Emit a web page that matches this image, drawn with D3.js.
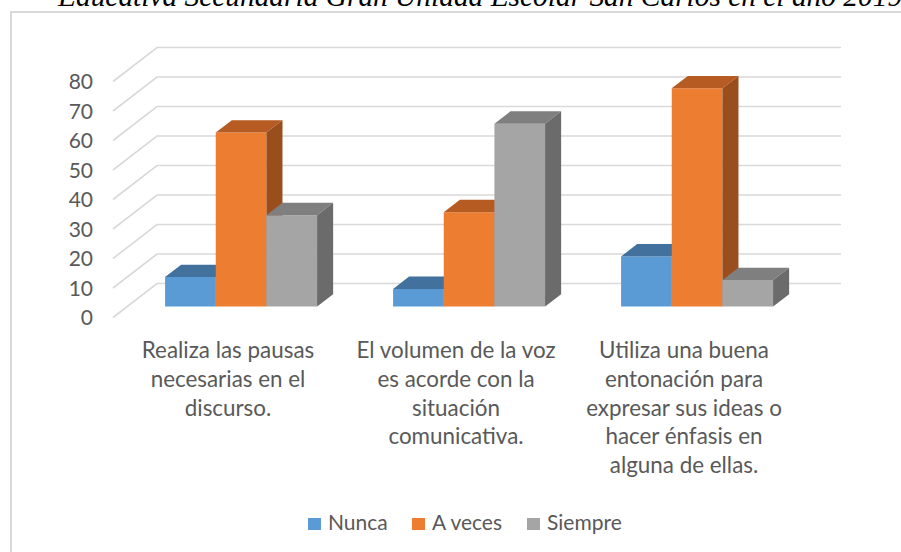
<!DOCTYPE html>
<html>
<head>
<meta charset="utf-8">
<script src="https://cdn.jsdelivr.net/npm/d3@7"></script>
<style>
  html, body { margin: 0; padding: 0; background: #fff; }
  svg { display: block; }
  .lbl { font-family: Lato, "Open Sans", sans-serif; fill: #595959; }
</style>
</head>
<body>
<svg id="chart" width="901" height="552"></svg>
<script>
	"use strict";

	var titleText = "Educativa Secundaria Gran Unidad Escolar San Carlos en el año 2019";
	var categories = ["Realiza las pausas necesarias en el discurso.",
		"El volumen de la voz es acorde con la situación comunicativa.",
		"Utiliza una buena entonación para expresar sus ideas o hacer énfasis en alguna de ellas."];
	var categoryLines = [
		["Realiza las pausas", "necesarias en el", "discurso."],
		["El volumen de la voz", "es acorde con la", "situación", "comunicativa."],
		["Utiliza una buena", "entonación para", "expresar sus ideas o", "hacer énfasis en", "alguna de ellas."]
	];
	var seriesNames = ["Nunca", "A veces", "Siempre"];
	var nunca = [10, 6, 17];
	var aVeces = [59, 32, 74];
	var siempre = [31, 62, 9];
	var yTicks = [0, 10, 20, 30, 40, 50, 60, 70, 80];

	var colors = {
		"Nunca": { front: "#5b9bd5", top: "#41719c", side: "#3b6a94" },
		"A veces": { front: "#ed7d31", top: "#b65c22", side: "#9a4e1d" },
		"Siempre": { front: "#a5a5a5", top: "#7f7f7f", side: "#6b6b6b" }
	};

	var depth = { dx: 44, dy: -34 },
		barDepth = { front: 0.32, back: 0.685 },
		svg = d3.select("#chart");

	var values = [nunca, aVeces, siempre];

	var x = d3.scaleBand().domain(categories).range([113, 797]).padding(0);
	var xInner = d3.scaleBand().domain(seriesNames).range([0, x.bandwidth()]).paddingInner(0).paddingOuter(0.75);
	var y = d3.scaleLinear().domain([0, 80]).range([317.5, 81.5]);

	function pt(px, v, f) {
		return [px + f * depth.dx, y(v) + f * depth.dy];
	}

	// title, cut at the top like in the page
	svg.append("text")
		.attr("x", 58)
		.attr("y", 6)
		.style("font-family", "'Liberation Serif', 'Times New Roman', serif")
		.style("font-style", "italic")
		.style("font-size", "29.4px")
		.style("fill", "#000")
		.text(titleText);

	// chart frame
	svg.append("rect")
		.attr("x", 11).attr("y", 12)
		.attr("width", 900).attr("height", 560)
		.attr("fill", "none")
		.attr("stroke", "#d9d9d9")
		.attr("stroke-width", 2);

	// gridlines: back wall plus left side diagonal
	var grid = svg.append("g").attr("class", "grid");
	yTicks.forEach(function(t) {
		var a = pt(x.range()[0], t, 0),
			b = pt(x.range()[0], t, 1),
			c = pt(x.range()[1], t, 1);
		grid.append("path")
			.attr("d", "M" + a + "L" + b + "L" + c)
			.attr("fill", "none")
			.attr("stroke", "#d9d9d9")
			.attr("stroke-width", 1.6);
	});

	// y tick labels
	svg.append("g").selectAll("text")
		.data(yTicks)
		.enter().append("text")
		.attr("class", "lbl")
		.attr("x", 93)
		.attr("y", function(d) { return y(d); })
		.attr("dy", "0.36em")
		.attr("text-anchor", "end")
		.style("font-size", "21px")
		.text(function(d) { return d; });

	// bars
	var bars = [];
	categories.forEach(function(c, i) {
		seriesNames.forEach(function(s, j) {
			bars.push({ cat: c, series: s, value: values[j][i] });
		});
	});

	var barG = svg.append("g").selectAll("g.bar")
		.data(bars)
		.enter().append("g")
		.attr("class", "bar");

	function poly(list) {
		return "M" + list.join("L") + "Z";
	}

	barG.each(function(d) {
		var g = d3.select(this),
			x0 = x(d.cat) + xInner(d.series),
			x1 = x0 + xInner.bandwidth(),
			f0 = barDepth.front,
			f1 = barDepth.back,
			col = colors[d.series];

		g.append("path")
			.attr("d", poly([pt(x0, 0, f0), pt(x1, 0, f0), pt(x1, d.value, f0), pt(x0, d.value, f0)]))
			.attr("fill", col.front);
		g.append("path")
			.attr("d", poly([pt(x0, d.value, f0), pt(x1, d.value, f0), pt(x1, d.value, f1), pt(x0, d.value, f1)]))
			.attr("fill", col.top);
		g.append("path")
			.attr("d", poly([pt(x1, 0, f0), pt(x1, 0, f1), pt(x1, d.value, f1), pt(x1, d.value, f0)]))
			.attr("fill", col.side);
	});

	// category labels
	var catG = svg.append("g").selectAll("text")
		.data(categories)
		.enter().append("text")
		.attr("class", "lbl")
		.attr("text-anchor", "middle")
		.style("font-size", "22.4px")
		.attr("transform", function(d) { return "translate(" + (x(d) + x.bandwidth() / 2 + 1) + ",358)"; });

	catG.selectAll("tspan")
		.data(function(d, i) { return categoryLines[i]; })
		.enter().append("tspan")
		.attr("x", 0)
		.attr("y", function(d, i) { return i * 28.8; })
		.text(function(d) { return d; });

	// legend
	var legendX = [308, 412, 527];
	var legend = svg.append("g").selectAll("g")
		.data(seriesNames)
		.enter().append("g")
		.attr("transform", function(d, i) { return "translate(" + legendX[i] + ",518)"; });

	legend.append("rect")
		.attr("width", 13).attr("height", 12)
		.attr("fill", function(d) { return colors[d].front; });
	legend.append("text")
		.attr("class", "lbl")
		.attr("x", 20)
		.attr("y", 12)
		.style("font-size", "21px")
		.text(function(d) { return d; });
</script>
</body>
</html>
